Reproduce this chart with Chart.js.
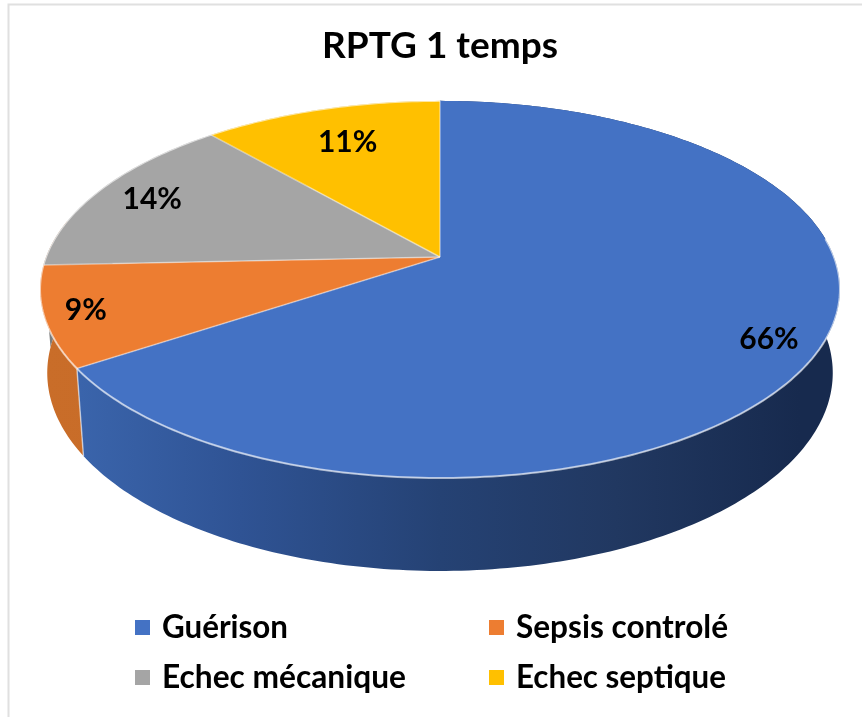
<!DOCTYPE html>
<html>
<head>
<meta charset="utf-8">
<style>html,body{margin:0;padding:0;background:#fff}canvas{display:block}</style>
<script src="https://cdn.jsdelivr.net/npm/chart.js@4"></script>
</head>
<body>
<canvas id="c" width="862" height="717"></canvas>
<script>
const chartTitle = "RPTG 1 temps";
const categories = ["Guérison", "Sepsis controlé", "Echec mécanique", "Echec septique"];
const shares = [65.7, 8.6, 14.3, 11.4];
const sliceColors = ["#4472C4", "#ED7D31", "#A5A5A5", "#FFC000"];
const wallStops = [
  [[0.05, "#3a64ab"], [0.25, "#2f5394"], [0.5, "#254274"], [0.72, "#213861"], [0.95, "#172a4e"]],
  [[0, "#c96d29"], [1, "#c06622"]],
  [[0, "#7c7c7c"], [1, "#7c7c7c"]],
  [[0, "#bf9000"], [1, "#bf9000"]]
];
const labelReach = [0.88, 0.9, 0.84, 0.75];
const wallOverrun = [0, 0.25, 0, 0];

const view = { cx: 440, cy: 257, a: 394, b: 183, k: 0.172 };
const wall = { sx: 0.982, sy: 1.05, y0: 289.5, shift: 373 };

function project(angle, r) {
  const X = Math.cos(angle) * r, Y = Math.sin(angle) * r, w = 1 - view.k * Y;
  return { x: view.cx + view.a * X / w, y: view.cy + view.b * Y / w };
}
function lower(p) {
  return { x: view.cx + (p.x - view.cx) * wall.sx, y: wall.shift + (p.y - wall.y0) * wall.sy };
}
function rimPoints(start, end) {
  const pts = [], n = Math.max(4, Math.ceil((end - start) * 60));
  for (let i = 0; i <= n; i++) pts.push(project(start + (end - start) * i / n, 1));
  return pts;
}

const pie3d = {
  id: "pie3d",
  beforeDraw(chart) {
    const c = chart.ctx;
    c.save();
    c.fillStyle = "#fff";
    c.fillRect(0, 0, chart.width, chart.height);
    c.strokeStyle = "#e0e0e0";
    c.lineWidth = 2;
    c.beginPath();
    c.moveTo(8.5, chart.height);
    c.lineTo(8.5, 4.5);
    c.lineTo(chart.width, 4.5);
    c.stroke();
    c.restore();
  },
  beforeDatasetDraw(chart, args) {
    const c = chart.ctx, arcs = args.meta.data;
    c.save();
    // side walls, back slices first
    [...arcs].reverse().forEach((el, r) => {
      const i = arcs.length - 1 - r;
      const top = rimPoints(el.startAngle, el.endAngle + wallOverrun[i]);
      const bottom = top.map(lower).reverse();
      const g = c.createLinearGradient(40, 0, 840, 0);
      wallStops[i].forEach(s => g.addColorStop(s[0], s[1]));
      c.fillStyle = g;
      c.beginPath();
      top.concat(bottom).forEach((p, j) => j ? c.lineTo(p.x, p.y) : c.moveTo(p.x, p.y));
      c.closePath();
      c.fill();
    });
    // top faces
    arcs.forEach((el, i) => {
      c.fillStyle = sliceColors[i];
      c.beginPath();
      c.moveTo(view.cx, view.cy);
      rimPoints(el.startAngle, el.endAngle).forEach(p => c.lineTo(p.x, p.y));
      c.closePath();
      c.fill();
    });
    // pale edges
    c.lineJoin = "round";
    arcs.forEach((el, i) => {
      c.strokeStyle = "rgba(255,255,255,0.62)";
      c.lineWidth = 2;
      c.beginPath();
      rimPoints(Math.max(el.startAngle, -0.1), Math.max(el.endAngle, -0.1)).forEach((p, j) => j ? c.lineTo(p.x, p.y) : c.moveTo(p.x, p.y));
      c.stroke();
      const p = project(el.startAngle, 1);
      c.strokeStyle = "rgba(255,255,255,0.45)";
      c.lineWidth = 1.5;
      c.beginPath();
      c.moveTo(view.cx, view.cy);
      c.lineTo(p.x, p.y);
      c.stroke();
    });
    // wall seam between the blue and orange sides
    const seam = project(arcs[0].endAngle, 1), seamLow = lower(seam);
    c.strokeStyle = "rgba(255,255,255,0.55)";
    c.lineWidth = 1.5;
    c.beginPath();
    c.moveTo(seam.x, seam.y);
    c.lineTo(seamLow.x, seamLow.y);
    c.stroke();
    c.restore();
    return false;
  },
  afterDatasetsDraw(chart) {
    const c = chart.ctx, arcs = chart.getDatasetMeta(0).data;
    const total = shares.reduce((s, v) => s + v, 0);
    c.save();
    c.fillStyle = "#000";
    c.font = "bold 30px Lato, sans-serif";
    c.textAlign = "center";
    c.textBaseline = "middle";
    arcs.forEach((el, i) => {
      const p = project((el.startAngle + el.endAngle) / 2, labelReach[i]);
      c.fillText(Math.round(shares[i] / total * 100) + "%", p.x, p.y);
    });
    // legend
    const colX = [135, 489], rowY = [628, 678], widths = [126, 212, 244, 210];
    c.font = "bold 32px Lato, sans-serif";
    c.textAlign = "left";
    categories.forEach((name, i) => {
      const x = colX[i % 2], y = rowY[Math.floor(i / 2)];
      c.fillStyle = sliceColors[i];
      c.fillRect(x, y - 8, 15, 15);
      c.fillStyle = "#000";
      c.fillText(name, x + 27, y, widths[i]);
    });
    c.restore();
  }
};

new Chart(document.getElementById("c"), {
  type: "pie",
  data: {
    labels: categories,
    datasets: [{ data: shares, backgroundColor: sliceColors, borderWidth: 0 }]
  },
  options: {
    responsive: false,
    animation: false,
    layout: { padding: { left: 40, right: 22, top: 0, bottom: 146 } },
    plugins: {
      legend: { display: false },
      tooltip: { enabled: false },
      title: {
        display: true,
        text: chartTitle,
        color: "#000",
        font: { family: "Lato, sans-serif", size: 37, weight: "bold" },
        padding: { top: 24, bottom: 10 }
      }
    }
  },
  plugins: [pie3d]
});
</script>
</body>
</html>
